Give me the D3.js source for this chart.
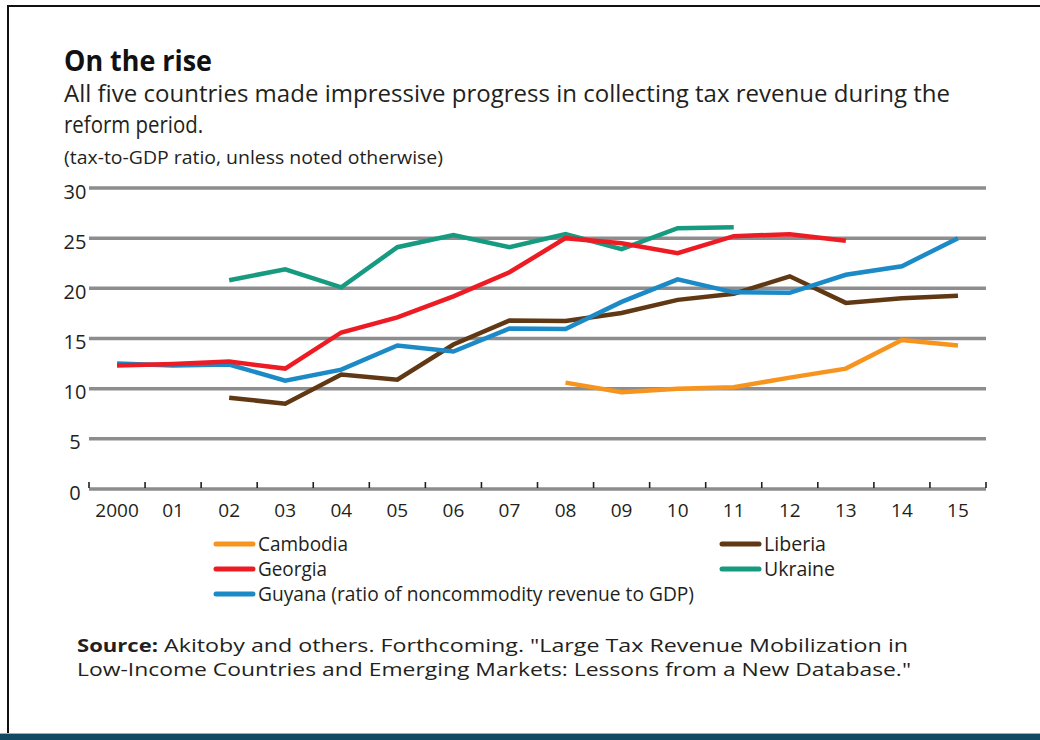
<!DOCTYPE html>
<html>
<head>
<meta charset="utf-8">
<script src="https://cdn.jsdelivr.net/npm/d3@7"></script>
<style>
  html, body { margin: 0; padding: 0; background: #fff; }
  svg { display: block; }
</style>
</head>
<body>
<svg id="chart" width="1040" height="740"></svg>
<script>
// ---- data ----
const years = [2000, 2001, 2002, 2003, 2004, 2005, 2006, 2007, 2008, 2009, 2010, 2011, 2012, 2013, 2014, 2015];
const yearLabels = ["2000", "01", "02", "03", "04", "05", "06", "07", "08", "09", "10", "11", "12", "13", "14", "15"];
const yTicks = [0, 5, 10, 15, 20, 25, 30];

const cambodia = [null, null, null, null, null, null, null, null, 10.6, 9.65, 10.0, 10.15, 11.1, 12.0, 14.85, 14.3];
const georgia  = [12.3, 12.45, 12.7, 12.0, 15.6, 17.1, 19.2, 21.6, 25.0, 24.5, 23.5, 25.2, 25.4, 24.75, null, null];
const guyana   = [12.5, 12.3, 12.4, 10.8, 11.9, 14.3, 13.7, 16.0, 15.95, 18.65, 20.9, 19.6, 19.55, 21.35, 22.2, 25.0];
const liberia  = [null, null, 9.1, 8.5, 11.4, 10.9, 14.4, 16.8, 16.75, 17.55, 18.85, 19.45, 21.2, 18.55, 19.0, 19.25];
const ukraine  = [null, null, 20.8, 21.9, 20.1, 24.1, 25.3, 24.1, 25.4, 23.9, 26.0, 26.1, null, null, null, null];

const seriesNames = ["Cambodia", "Georgia", "Guyana", "Liberia", "Ukraine"];
const seriesLabels = ["Cambodia", "Georgia", "Guyana (ratio of noncommodity revenue to GDP)", "Liberia", "Ukraine"];
const seriesColors = ["#f7941d", "#ed1c24", "#1b8ac6", "#603813", "#169b80"];
const seriesValues = [cambodia, georgia, guyana, liberia, ukraine];

// ---- setup ----
const svg = d3.select("#chart");
const condensed = "'Open Sans', 'DejaVu Sans', sans-serif";
const body = "'Open Sans', 'DejaVu Sans', sans-serif";

function txt(x, y, s, opts) {
  const t = svg.append("text").attr("x", x).attr("y", y)
    .attr("font-family", opts.family || body)
    .attr("font-size", opts.size)
    .attr("font-weight", opts.weight || "normal")
    .attr("fill", opts.fill || "#231f20")
    .text(s);
  if (opts.width) t.attr("textLength", opts.width).attr("lengthAdjust", "spacingAndGlyphs");
  return t;
}

// frame
svg.append("rect").attr("x", 0).attr("y", 0).attr("width", 1040).attr("height", 740).attr("fill", "#fff");
svg.append("line").attr("x1", 8).attr("x2", 1040).attr("y1", 6).attr("y2", 6).attr("stroke", "#111").attr("stroke-width", 2);
svg.append("line").attr("x1", 8).attr("x2", 8).attr("y1", 5).attr("y2", 736).attr("stroke", "#111").attr("stroke-width", 2);
svg.append("rect").attr("x", 0).attr("y", 734).attr("width", 1040).attr("height", 6).attr("fill", "#114a62");
svg.append("rect").attr("x", 0).attr("y", 733).attr("width", 1040).attr("height", 1).attr("fill", "#8fb3bf");

// titles
txt(64, 71, "On the rise", {size: 29, weight: "bold", family: condensed, width: 148, fill: "#111"});
txt(64, 102, "All five countries made impressive progress in collecting tax revenue during the", {size: 24, family: condensed, width: 886});
txt(64, 133, "reform period.", {size: 24, family: condensed, width: 139});
txt(64, 164, "(tax-to-GDP ratio, unless noted otherwise)", {size: 19, family: condensed, width: 379});

// scales
const x = d3.scaleBand().domain(years).range([89, 986]).padding(0);
const y = d3.scaleLinear().domain([0, 30]).range([489, 188]);

// gridlines
svg.append("g").selectAll("line").data(yTicks).join("line")
  .attr("x1", 89).attr("x2", 986)
  .attr("y1", d => y(d)).attr("y2", d => y(d))
  .attr("stroke", "#8d8d8f").attr("stroke-width", 3.5);

// y labels
svg.append("g").selectAll("text").data(yTicks).join("text")
  .attr("x", 75).attr("y", d => y(d) + 10.5)
  .attr("text-anchor", "middle")
  .attr("font-family", body).attr("font-size", 20).attr("fill", "#231f20")
  .text(d => d);

// x axis ticks (band boundaries)
const tickPos = years.map(d => x(d)).concat([x(years[years.length - 1]) + x.bandwidth()]);
svg.append("g").selectAll("line").data(tickPos).join("line")
  .attr("x1", d => d).attr("x2", d => d)
  .attr("y1", 482).attr("y2", 488)
  .attr("stroke", "#231f20").attr("stroke-width", 1.6);

// x labels
svg.append("g").selectAll("text").data(years).join("text")
  .attr("x", d => x(d) + x.bandwidth() / 2).attr("y", 517)
  .attr("text-anchor", "middle")
  .attr("font-family", body).attr("font-size", 19).attr("fill", "#231f20")
  .text((d, i) => yearLabels[i]);

// lines
const line = d3.line()
  .defined(d => d.v != null)
  .x(d => x(d.year) + x.bandwidth() / 2)
  .y(d => y(d.v));

const order = [4, 3, 2, 1, 0];
svg.append("g").selectAll("path").data(order).join("path")
  .attr("d", i => line(years.map((yr, j) => ({year: yr, v: seriesValues[i][j]}))))
  .attr("fill", "none")
  .attr("stroke", i => seriesColors[i])
  .attr("stroke-width", 4.5)
  .attr("stroke-linejoin", "miter");

// legend
const legendPos = [
  {lx: 216, ty: 551, w: 90},
  {lx: 216, ty: 576, w: 69},
  {lx: 216, ty: 601, w: 436},
  {lx: 722, ty: 551, w: 62},
  {lx: 722, ty: 576, w: 71}
];
seriesNames.forEach((n, i) => {
  const p = legendPos[i];
  svg.append("line").attr("x1", p.lx).attr("x2", p.lx + 37)
    .attr("y1", p.ty - 7).attr("y2", p.ty - 7)
    .attr("stroke", seriesColors[i]).attr("stroke-width", 5).attr("stroke-linecap", "round");
  txt(p.lx + 42, p.ty, seriesLabels[i], {size: 20, family: condensed, width: p.w});
});

// source
txt(77, 652, "Source:", {size: 17.5, weight: "bold", width: 81});
txt(164, 652, "Akitoby and others. Forthcoming. \"Large Tax Revenue Mobilization in", {size: 17.5, width: 744});
txt(77, 676, "Low-Income Countries and Emerging Markets: Lessons from a New Database.\"", {size: 17.5, width: 834});
</script>
</body>
</html>
